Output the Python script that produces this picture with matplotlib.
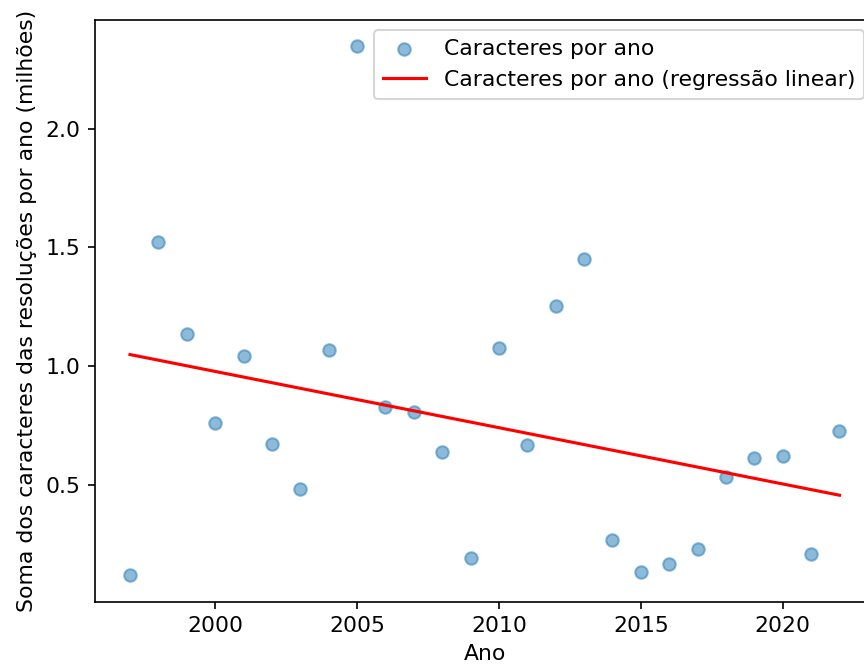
"""Soma anual dos caracteres das resoluções, com a tendência por regressão linear."""

import matplotlib
matplotlib.use("Agg")
import matplotlib.pyplot as plt  # noqa: E402
import numpy as np  # noqa: E402

# soma dos caracteres das resoluções publicadas em cada ano (milhões)
ANOS = [1997, 1998, 1999, 2000, 2001, 2002, 2003, 2004, 2005, 2006, 2007, 2008, 2009,
        2010, 2011, 2012, 2013, 2014, 2015, 2016, 2017, 2018, 2019, 2020, 2021, 2022]
CARACTERES = [0.118, 1.521, 1.135, 0.759, 1.041, 0.672, 0.479, 1.066, 2.350, 0.825,
              0.806, 0.638, 0.192, 1.077, 0.666, 1.254, 1.453, 0.266, 0.133, 0.165,
              0.226, 0.533, 0.613, 0.620, 0.206, 0.727]


def main():
    plt.rcParams["font.size"] = 10.5
    x = np.array(ANOS, dtype=float)
    y = np.array(CARACTERES)
    a, b = np.polyfit(x, y, 1)

    fig = plt.figure(figsize=(5.76, 4.44), dpi=150)
    ax = fig.add_axes([0.1094, 0.0968, 0.9033, 0.8739])
    ax.scatter(x, y, alpha=0.5, label="Caracteres por ano")
    ax.plot(x, a * x + b, color="red", label="Caracteres por ano (regressão linear)")
    ax.set_xlabel("Ano")
    ax.set_ylabel("Soma dos caracteres das resoluções por ano (milhões)")
    ax.legend(loc="upper right")
    fig.savefig("out.png", dpi=150)
    return 0


if __name__ == "__main__":
    raise SystemExit(main())
